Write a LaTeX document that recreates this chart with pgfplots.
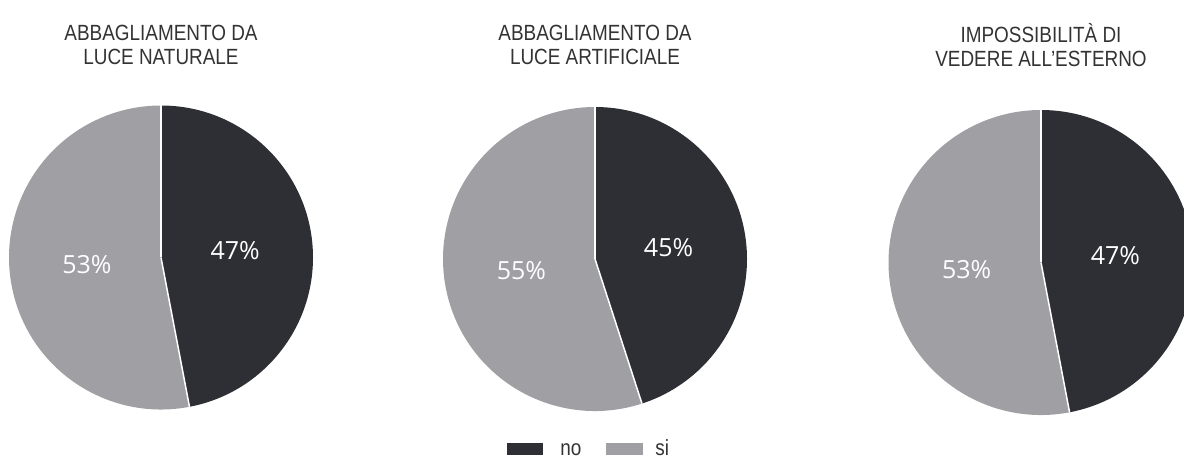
\documentclass[border=0pt]{standalone}
\usepackage{pgfplots}
\pgfplotsset{compat=1.18}
\usepackage{pgfplotstable}
\usepackage{fontspec}
\setmainfont{Open Sans}
\newfontfamily\condfont[FakeStretch=0.86]{Liberation Sans}
\definecolor{pieDark}{RGB}{46,47,52}
\definecolor{pieGray}{RGB}{160,159,164}
\definecolor{titleGray}{RGB}{51,51,51}

% pie centre (px, y up), radius (px), shares in percent
\pgfplotstableread{
pie cx cy r no si
0 161 203.5 152 47 53
1 595 202 152 45 55
2 1041 198.5 152.5 47 53
}\piedata

\newcommand\drawpie[3]{%
 \pgfplotstablegetelem{#1}{cx}\of\piedata \let\pX\pgfplotsretval
 \pgfplotstablegetelem{#1}{cy}\of\piedata \let\pY\pgfplotsretval
 \pgfplotstablegetelem{#1}{r}\of\piedata \let\pR\pgfplotsretval
 \pgfplotstablegetelem{#1}{no}\of\piedata \let\pNo\pgfplotsretval
 \pgfplotstablegetelem{#1}{si}\of\piedata \let\pSi\pgfplotsretval
 \pgfmathsetmacro\rr{0.5*\pR}%
 \pgfmathsetmacro\aNo{3.6*\pNo}%
 \pgfmathsetmacro\aSi{3.6*\pSi}%
 \pgfmathsetmacro\mNo{90-\aNo/2}%
 \pgfmathsetmacro\mSi{90-\aNo-\aSi/2}%
 \pgfmathsetmacro\eNo{90-\aNo}%
 \begin{axis}[at={(\pX*0.5pt,\pY*0.5pt)}, anchor=center, scale only axis,
   width=\pR pt, height=\pR pt, xmin=-1, xmax=1, ymin=-1, ymax=1,
   hide axis, clip=false]
  \fill[pieDark] (axis cs:0,0) -- ++(90:\rr pt) arc[start angle=90, delta angle=-\aNo, radius=\rr pt] -- cycle;
  \fill[pieGray] (axis cs:0,0) -- ++(\eNo:\rr pt) arc[start angle=\eNo, delta angle=-\aSi, radius=\rr pt] -- cycle;
  \draw[white, line width=0.75pt] (axis cs:0,0) -- ++(90:\rr pt);
  \draw[white, line width=0.75pt] (axis cs:0,0) -- ++(\eNo:\rr pt);
  \path (axis cs:0,0) ++(\mNo:0.49*\rr pt) node[text=white, font=\fontsize{12.5}{14}\selectfont] {\pNo\%};
  \path (axis cs:0,0) ++(\mSi:0.49*\rr pt) node[text=white, font=\fontsize{12.5}{14}\selectfont] {\pSi\%};
 \end{axis}
 \node[text=titleGray, align=center, font=\condfont\fontsize{11}{12}\selectfont] at (\pX*0.5pt, 208pt) {#2\\#3};
}

\begin{document}
\begin{tikzpicture}
\useasboundingbox (0,0) rectangle (592pt,230.5pt);
\clip (0,0) rectangle (592pt,230.5pt);
\drawpie{0}{ABBAGLIAMENTO DA}{LUCE NATURALE}
\drawpie{1}{ABBAGLIAMENTO DA}{LUCE ARTIFICIALE}
\drawpie{2}{IMPOSSIBILITÀ DI}{VEDERE ALL’ESTERNO}
% legend
\fill[pieDark] (253.5pt,3pt) rectangle (271.5pt,9pt);
\node[anchor=base west, inner sep=0pt, text=titleGray, font=\condfont\fontsize{11}{12}\selectfont] at (280pt,3pt) {no};
\fill[pieGray] (303pt,3pt) rectangle (321.5pt,9pt);
\node[anchor=base west, inner sep=0pt, text=titleGray, font=\condfont\fontsize{11}{12}\selectfont] at (327.5pt,3pt) {si};
\end{tikzpicture}
\end{document}
